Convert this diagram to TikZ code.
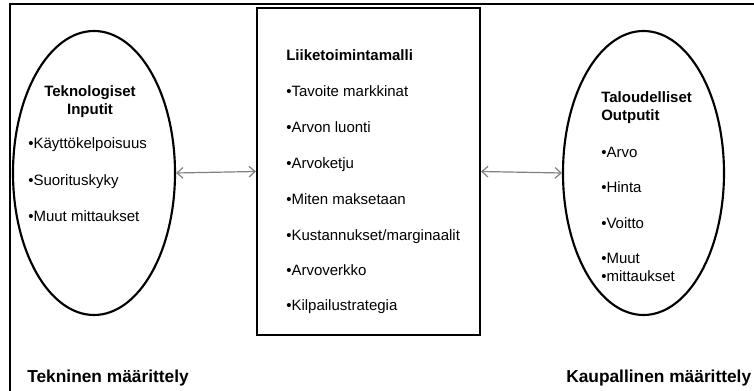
\documentclass[tikz,border=0pt]{standalone}
\usepackage{fontspec}
\setmainfont{Liberation Sans}
\usetikzlibrary{shapes.geometric,arrows.meta}

\tikzset{
  frameline/.style={line width=1.9pt},
  modelbox/.style={draw, line width=1.6pt, inner sep=0pt},
  oval/.style={draw, ellipse, line width=1.6pt, inner sep=0pt},
  link/.style={draw=black!50, line width=0.9pt,
    {Straight Barb[length=4.5pt,width=8pt]}-{Straight Barb[length=4.5pt,width=8pt]}},
  heading/.style={font=\fontsize{11.25}{13.6}\selectfont\bfseries, inner sep=0pt},
  item/.style={font=\fontsize{11.25}{13.6}\selectfont, inner sep=0pt, anchor=base west},
  footer/.style={font=\fontsize{13}{15}\selectfont\bfseries, inner sep=0pt, anchor=base west}
}

\begin{document}
\begin{tikzpicture}[x=0.75pt, y=-0.75pt]
  \useasboundingbox (0,0) rectangle (754,391);

  % outer frame (top and left sides)
  \draw[frameline] (10,391) -- (10,4) -- (756,4);

  % central business model box
  \node[modelbox, minimum width=223*0.75pt, minimum height=327*0.75pt] (model) at (368.5,171.5) {};

  % side ovals
  \node[oval, minimum width=162*0.75pt, minimum height=284*0.75pt] (tech) at (94,173) {};
  \node[oval, minimum width=161*0.75pt, minimum height=284*0.75pt] (econ) at (643.5,173) {};

  % links between ovals and box
  \draw[link] (tech.east) -- (model.west);
  \draw[link] (model.east) -- (econ.west);

  % technological inputs
  \node[heading, anchor=base] (t1) at (90,97) {Teknologiset};
  \node[heading, anchor=base] (t2) at (90,115) {Inputit};
  \node[item] (ti1) at (28,149) {\textbullet Käyttökelpoisuus};
  \node[item] (ti2) at (28,186) {\textbullet Suorituskyky};
  \node[item] (ti3) at (28,222) {\textbullet Muut mittaukset};

  % business model
  \node[heading, anchor=base west] (m0) at (286,61) {Liiketoimintamalli};
  \node[item] (m1) at (286,97) {\textbullet Tavoite markkinat};
  \node[item] (m2) at (286,133) {\textbullet Arvon luonti};
  \node[item] (m3) at (286,169) {\textbullet Arvoketju};
  \node[item] (m4) at (286,205) {\textbullet Miten maksetaan};
  \node[item] (m5) at (286,241) {\textbullet Kustannukset/marginaalit};
  \node[item] (m6) at (286,276) {\textbullet Arvoverkko};
  \node[item] (m7) at (286,311) {\textbullet Kilpailustrategia};

  % economic outputs
  \node[heading, anchor=base west] (e1) at (601,103) {Taloudelliset};
  \node[heading, anchor=base west] (e2) at (601,121) {Outputit};
  \node[item] (ei1) at (601,158) {\textbullet Arvo};
  \node[item] (ei2) at (601,193) {\textbullet Hinta};
  \node[item] (ei3) at (601,229) {\textbullet Voitto};
  \node[item] (ei4) at (601,264) {\textbullet Muut};
  \node[item] (ei5) at (601,282) {\textbullet mittaukset};

  % footers
  \node[footer] (fl) at (27,383) {Tekninen määrittely};
  \node[footer] (fr) at (566,383) {Kaupallinen määrittely};
\end{tikzpicture}
\end{document}
